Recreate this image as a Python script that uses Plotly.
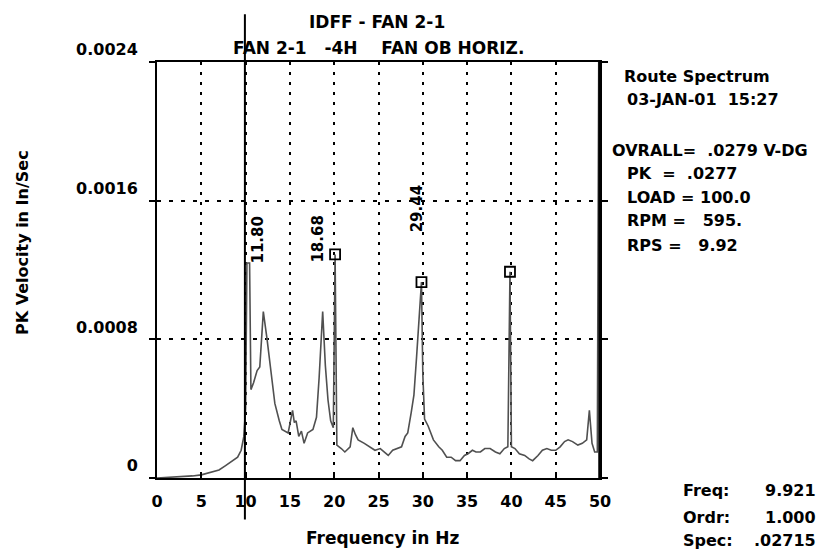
import plotly.graph_objects as go

# ---- data ----
freq_hz = [0.0, 1.0, 2.0, 3.0, 4.0, 5.0, 6.0, 7.0, 7.7, 8.5, 9.1, 9.5, 9.8, 10.0,
           10.15, 10.45, 10.6, 10.9, 11.3, 11.6, 12.0, 12.4, 12.9, 13.3, 13.8, 14.1,
           14.8, 15.3, 15.5, 15.7, 16.0, 16.3, 16.6, 17.0, 17.6, 18.0, 18.3, 18.7,
           19.0, 19.3, 19.6, 19.9, 20.1, 20.3, 20.8, 21.2, 21.8, 22.1, 22.4, 22.7,
           23.4, 24.0, 24.6, 25.2, 26.1, 26.6, 27.1, 27.6, 28.0, 28.3, 28.7, 29.0,
           29.3, 29.6, 29.85, 30.0, 30.2, 30.6, 31.2, 31.8, 32.2, 32.7, 33.2, 33.7,
           34.2, 34.7, 35.1, 35.6, 36.0, 36.5, 37.0, 37.6, 38.2, 38.7, 39.2, 39.6,
           39.84, 40.0, 40.4, 40.9, 41.5, 42.0, 42.4, 43.0, 43.5, 44.0, 44.5, 45.0,
           45.5, 46.0, 46.4, 46.9, 47.5, 48.0, 48.5, 48.8, 49.1, 49.4, 49.7, 49.9, 50.0]
pk_velocity = [0.0, 0.000002, 0.000004, 0.000008, 0.000012, 0.000018, 0.00003, 0.000046,
               0.00007, 0.0001, 0.00012, 0.00016, 0.00024, 0.0004,
               0.00124, 0.00124, 0.00051, 0.00055, 0.00062, 0.00064, 0.00096, 0.00081,
               0.0006, 0.00043, 0.00033, 0.00028,
               0.00026, 0.00039, 0.00032, 0.00033, 0.00024, 0.00027, 0.0002, 0.00026,
               0.00028, 0.00035, 0.00058, 0.00096,
               0.00065, 0.00045, 0.00033, 0.00029, 0.00129, 0.00019, 0.00017, 0.00015,
               0.00018, 0.00029, 0.00025, 0.00022,
               0.0002, 0.00018, 0.00016, 0.00017, 0.00013, 0.00016, 0.00017, 0.00018,
               0.00024, 0.00026, 0.00038, 0.00048,
               0.0007, 0.00095, 0.00113, 0.0006, 0.00034, 0.0003, 0.00022, 0.00018,
               0.00016, 0.00012, 0.00012, 0.0001,
               0.0001, 0.00013, 0.00014, 0.00016, 0.00015, 0.00015, 0.00017, 0.00017,
               0.00015, 0.00014, 0.00017, 0.00018,
               0.00119, 0.00018, 0.00017, 0.00014, 0.00013, 0.00011, 0.0001, 0.00013,
               0.00016, 0.00017, 0.00016, 0.00016,
               0.00018, 0.00021, 0.00022, 0.00021, 0.00019, 0.0002, 0.00022, 0.00039,
               0.0002, 0.00015, 0.00015, 0.003, 0.003]

marker_freq = [20.1, 29.85, 39.84]
marker_amp = [0.00129, 0.00113, 0.00119]

peak_labels = ["11.80", "18.68", "29.44"]
peak_label_freq = [11.4, 18.15, 29.35]
peak_label_amp = [0.00137, 0.00138, 0.00155]

cursor_freq = 9.921

x_ticks = [0, 5, 10, 15, 20, 25, 30, 35, 40, 45, 50]
y_ticks = [0, 0.0008, 0.0016, 0.0024]
y_tick_text = ["0", "0.0008", "0.0016", "0.0024"]

title_lines = ["IDFF - FAN 2-1",
               "FAN 2-1\u00a0\u00a0\u00a0-4H\u00a0\u00a0\u00a0\u00a0FAN OB HORIZ."]
info_lines = ["Route Spectrum",
              "03-JAN-01\u00a0\u00a015:27",
              "OVRALL=\u00a0\u00a0.0279 V-DG",
              "PK\u00a0\u00a0=\u00a0\u00a0.0277",
              "LOAD = 100.0",
              "RPM =\u00a0\u00a0\u00a0595.",
              "RPS =\u00a0\u00a0\u00a09.92"]
cursor_names = ["Freq:", "Ordr:", "Spec:"]
cursor_values = ["9.921", "1.000", ".02715"]

FONT = "DejaVu Sans"

fig = go.Figure()
fig.add_trace(go.Scatter(x=freq_hz, y=pk_velocity, mode="lines",
                         line=dict(color="#505050", width=1.6),
                         hoverinfo="skip", showlegend=False))
fig.add_trace(go.Scatter(x=marker_freq, y=marker_amp, mode="markers",
                         marker=dict(symbol="square-open", size=10,
                                     line=dict(color="black", width=1.8), color="black"),
                         showlegend=False))

# cursor line
fig.add_shape(type="line", xref="x", yref="paper", x0=cursor_freq, x1=cursor_freq,
              y0=-0.1, y1=1.115, line=dict(color="black", width=2))
# heavier right frame edge
fig.add_shape(type="line", xref="paper", yref="paper", x0=1, x1=1, y0=0, y1=1,
              line=dict(color="black", width=3.5))

ann = []
for t, fx, fy in zip(peak_labels, peak_label_freq, peak_label_amp):
    ann.append(dict(x=fx, y=fy, xref="x", yref="y", text=t, textangle=-90,
                    showarrow=False, font=dict(size=15),
                    xanchor="center", yanchor="middle"))
ann.append(dict(x=0.497, y=1.096, xref="paper", yref="paper", text=title_lines[0],
                showarrow=False, font=dict(size=17), xanchor="center", yanchor="middle"))
ann.append(dict(x=0.499, y=1.034, xref="paper", yref="paper", text=title_lines[1],
                showarrow=False, font=dict(size=17), xanchor="center", yanchor="middle"))
info_x = [1.05, 1.057, 1.023, 1.057, 1.057, 1.057, 1.057]
info_y = [0.966, 0.909, 0.788, 0.733, 0.675, 0.618, 0.560]
for t, px, py in zip(info_lines, info_x, info_y):
    ann.append(dict(x=px, y=py, xref="paper", yref="paper", text=t, showarrow=False,
                    font=dict(size=16), xanchor="left", yanchor="middle"))
read_y = [-0.031, -0.096, -0.151]
for n, v, py in zip(cursor_names, cursor_values, read_y):
    ann.append(dict(x=1.183, y=py, xref="paper", yref="paper", text=n, showarrow=False,
                    font=dict(size=16), xanchor="left", yanchor="middle"))
    ann.append(dict(x=1.492, y=py, xref="paper", yref="paper", text=v, showarrow=False,
                    font=dict(size=16), xanchor="right", yanchor="middle"))
ann.append(dict(x=0.51, y=-0.145, xref="paper", yref="paper", text="Frequency in Hz",
                showarrow=False, font=dict(size=17), xanchor="center", yanchor="middle"))
ann.append(dict(x=-0.305, y=0.567, xref="paper", yref="paper", text="PK Velocity in In/Sec",
                textangle=-90, showarrow=False, font=dict(size=16),
                xanchor="center", yanchor="middle"))

fig.update_layout(
    width=831, height=552,
    margin=dict(l=157, r=231, t=62, b=74),
    paper_bgcolor="white", plot_bgcolor="white",
    font=dict(family=FONT, size=16, color="black", weight="bold"),
    annotations=ann,
    showlegend=False,
)
fig.update_xaxes(range=[0, 50], tickvals=x_ticks, showgrid=True, gridcolor="black",
                 gridwidth=2, griddash="3px,7px", zeroline=False,
                 showline=True, linecolor="black", linewidth=2, mirror=True,
                 ticks="inside", ticklen=6, tickwidth=2, tickcolor="black",
                 ticklabelstandoff=8, tickfont=dict(size=16))
fig.update_yaxes(range=[0, 0.0024], tickvals=y_ticks, ticktext=y_tick_text,
                 showgrid=True, gridcolor="black", gridwidth=2, griddash="4px,8px",
                 zeroline=False, showline=True, linecolor="black", linewidth=2,
                 mirror="ticks", ticks="outside", ticklen=6, tickwidth=2,
                 tickcolor="black", ticklabelposition="outside top",
                 ticklabelstandoff=14, tickfont=dict(size=16))

fig.write_html("out.html")
